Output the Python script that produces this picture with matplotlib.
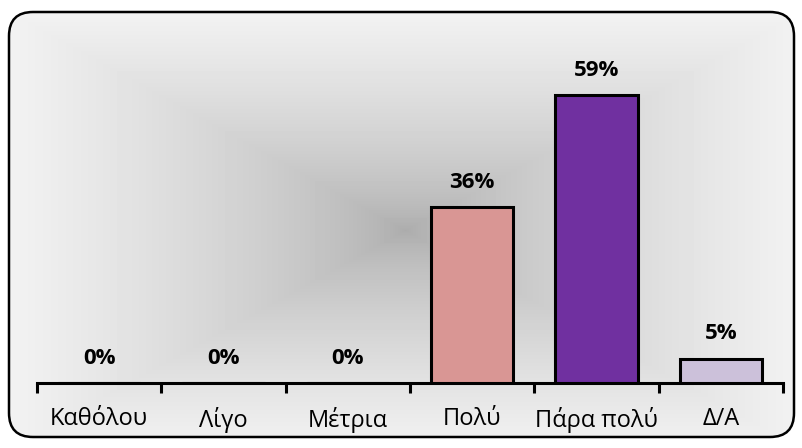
import numpy as np
import matplotlib.pyplot as plt
from matplotlib.patches import FancyBboxPatch

categories = ['Καθόλου', 'Λίγο', 'Μέτρια', 'Πολύ', 'Πάρα πολύ', 'Δ/Α']
values = [0, 0, 0, 36, 59, 5]
bar_colors = ['#D99694', '#D99694', '#D99694', '#D99694', '#7030A0', '#CCC1DA']

plt.rcParams['font.family'] = ['Open Sans', 'DejaVu Sans']

W, H = 803, 448
fig = plt.figure(figsize=(W / 100, H / 100), dpi=100)

# background: rounded frame with rectangular path gradient (dark centre, light edges)
bg = fig.add_axes([0, 0, 1, 1])
bg.set_xlim(0, W)
bg.set_ylim(H, 0)
bg.axis('off')
yy, xx = np.mgrid[0:H, 0:W]
r = np.maximum(np.abs(xx - 405) / 395.0, np.abs(yy - 230) / 218.0)
r = np.clip(r, 0, 1)
shade = 0.67 + (0.95 - 0.67) * r ** 0.7
img = bg.imshow(shade, cmap='gray', vmin=0, vmax=1, extent=(0, W, H, 0), zorder=0)
frame = FancyBboxPatch((9, 12), W - 18, H - 23, boxstyle='round,pad=0,rounding_size=24',
                       facecolor='none', edgecolor='black', linewidth=1.8, zorder=2)
bg.add_patch(frame)
img.set_clip_path(frame)

# main chart
ax = fig.add_axes([37 / W, (H - 383) / H, (783 - 37) / W, (383 - 30) / H])
ax.patch.set_alpha(0)
x = np.arange(len(categories))
ax.bar(x, values, width=0.66, color=bar_colors, edgecolor='black', linewidth=2.2, zorder=3)
ax.set_xlim(-0.5, len(categories) - 0.5)
ax.set_ylim(0, 72.3)
for xi, v in zip(x, values):
    ax.text(xi, v + 2.9, f'{v}%', ha='center', va='bottom', fontsize=16,
            fontweight='bold', color='black')

ax.set_xticks(np.arange(-0.5, len(categories), 1))
ax.set_xticklabels([])
ax.tick_params(axis='x', which='major', length=7, width=2.2, color='black', direction='out')
ax.set_xticks(x, minor=True)
ax.set_xticklabels(categories, minor=True, fontsize=17)
ax.tick_params(axis='x', which='minor', length=0, pad=17)
ax.set_yticks([])
for s in ['left', 'right', 'top']:
    ax.spines[s].set_visible(False)
ax.spines['bottom'].set_linewidth(2.2)

fig.savefig('out.png', dpi=100)
